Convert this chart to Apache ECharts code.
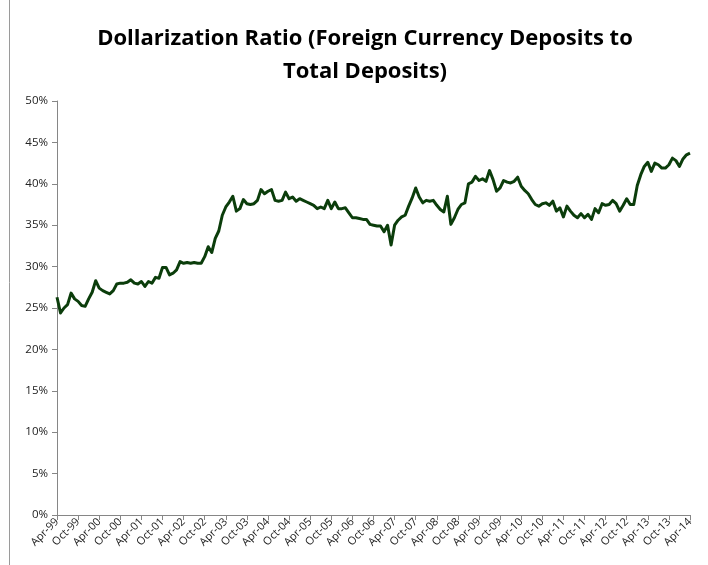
<!DOCTYPE html>
<html>
<head>
<meta charset="utf-8">
<script src="https://cdn.jsdelivr.net/npm/echarts@6/dist/echarts.min.js"></script>
<style>
  html, body { margin: 0; padding: 0; background: #fff; }
  #chart { width: 708px; height: 565px; }
</style>
</head>
<body>
<div id="chart"></div>
<script>
// monthly, Apr-99 .. Apr-14
var monthNames = ['Jan', 'Feb', 'Mar', 'Apr', 'May', 'Jun', 'Jul', 'Aug', 'Sep', 'Oct', 'Nov', 'Dec'];
var startYear = 1999, startMonth = 3, monthCount = 181;

// dollarization ratio, percent
var ratio = [
    26.3, 24.4, 25.0, 25.4, 26.8, 26.1, 25.8, 25.3, 25.2, 26.1,
    26.9, 28.3, 27.4, 27.1, 26.9, 26.7, 27.1, 27.9, 28.0, 28.0,
    28.1, 28.4, 28.0, 27.9, 28.2, 27.6, 28.2, 28.0, 28.7, 28.6,
    29.9, 29.9, 29.0, 29.2, 29.6, 30.6, 30.4, 30.5, 30.4, 30.5,
    30.4, 30.4, 31.2, 32.4, 31.7, 33.4, 34.3, 36.2, 37.2, 37.8,
    38.5, 36.7, 37.0, 38.1, 37.6, 37.5, 37.6, 38.0, 39.3, 38.8,
    39.1, 39.3, 38.0, 37.9, 38.0, 39.0, 38.2, 38.4, 37.9, 38.2,
    38.0, 37.8, 37.6, 37.4, 37.0, 37.2, 37.0, 38.0, 37.0, 37.8,
    37.0, 37.0, 37.1, 36.5, 35.9, 35.9, 35.8, 35.7, 35.7, 35.1,
    35.0, 34.9, 34.9, 34.2, 35.0, 32.6, 35.0, 35.6, 36.0, 36.2,
    37.3, 38.3, 39.5, 38.4, 37.7, 38.0, 37.9, 38.0, 37.4, 36.9,
    36.6, 38.5, 35.1, 35.9, 36.9, 37.5, 37.7, 40.0, 40.2, 40.9,
    40.4, 40.6, 40.3, 41.6, 40.5, 39.1, 39.5, 40.4, 40.2, 40.1,
    40.3, 40.8, 39.7, 39.2, 38.8, 38.1, 37.5, 37.3, 37.6, 37.7,
    37.4, 37.9, 36.7, 37.1, 36.0, 37.3, 36.7, 36.2, 35.9, 36.4,
    35.9, 36.3, 35.7, 37.0, 36.5, 37.6, 37.4, 37.5, 38.0, 37.6,
    36.7, 37.4, 38.2, 37.5, 37.5, 39.8, 41.1, 42.1, 42.6, 41.5,
    42.5, 42.3, 41.9, 41.9, 42.3, 43.1, 42.8, 42.1, 43.0, 43.5,
    43.7
];

var months = [];
for (var i = 0; i < monthCount; i++) {
    var m = startMonth + i;
    var y = startYear + Math.floor(m / 12);
    months.push(monthNames[m % 12] + '-' + String(y % 100).padStart(2, '0'));
}

var chart = echarts.init(document.getElementById('chart'));

var option = {
    animation: false,
    title: {
        text: 'Dollarization Ratio (Foreign Currency Deposits to\nTotal Deposits)',
        left: 360,
        textAlign: 'center',
        top: 17,
        textStyle: {
            fontFamily: 'Open Sans',
            fontWeight: 'bold',
            fontSize: 22,
            lineHeight: 33,
            color: '#000'
        }
    },
    grid: { left: 57, right: 18, top: 101, bottom: 50, containLabel: false },
    xAxis: {
        type: 'category',
        data: months,
        boundaryGap: false,
        axisLine: { lineStyle: { color: '#868686', width: 1 } },
        axisTick: { interval: 5, length: 5, lineStyle: { color: '#868686' } },
        axisLabel: {
            interval: 5,
            rotate: 45,
            fontFamily: 'Open Sans',
            fontSize: 11,
            color: '#222',
            margin: 5
        },
        splitLine: { show: false }
    },
    yAxis: {
        type: 'value',
        min: 0,
        max: 50,
        interval: 5,
        axisLine: { show: true, lineStyle: { color: '#868686', width: 1 } },
        axisTick: { show: true, length: 5, lineStyle: { color: '#868686' } },
        axisLabel: {
            formatter: '{value}%',
            fontFamily: 'Open Sans',
            fontSize: 11.5,
            color: '#222',
            margin: 9
        },
        splitLine: { show: false }
    },
    series: [{
        type: 'line',
        data: ratio,
        symbol: 'none',
        smooth: false,
        lineStyle: { color: '#0b3d0b', width: 3, join: 'round' }
    }],
    graphic: [{
        type: 'line',
        shape: { x1: 9.5, y1: 0, x2: 9.5, y2: 565 },
        style: { stroke: '#9a9a9a', lineWidth: 1 }
    }]
};

chart.setOption(option);
</script>
</body>
</html>
